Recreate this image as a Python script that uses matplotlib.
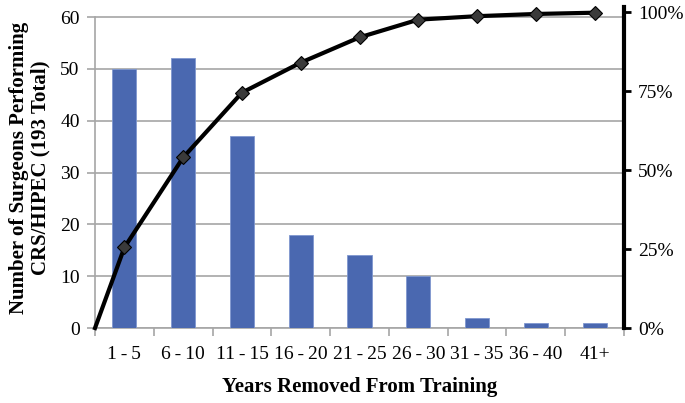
import numpy as np
import matplotlib
matplotlib.use("Agg")
import matplotlib.pyplot as plt
from matplotlib.ticker import FixedLocator, NullFormatter, FuncFormatter

plt.rcParams["font.family"] = ["Liberation Serif", "DejaVu Serif"]

categories = ["1\u2009-\u20095", "6\u2009-\u200910", "11\u2009-\u200915",
              "16\u2009-\u200920", "21\u2009-\u200925", "26\u2009-\u200930",
              "31\u2009-\u200935", "36\u2009-\u200940", "41+"]
surgeons = [50, 52, 37, 18, 14, 10, 2, 1, 1]
# cumulative share (first point = origin)
cum_pct = [0, 25.5, 54, 74.5, 84, 92, 97.6, 98.7, 99.4, 99.8]

bar_color = "#4a68b0"
grid_color = "#a6a6a6"

fig = plt.figure(figsize=(6.85, 4.03), dpi=100)
ax = fig.add_axes([0.1387, 0.186, 0.7723, 0.7966])

x = np.arange(len(categories))
ax.bar(x, surgeons, width=0.41, color=bar_color, edgecolor="#7f97cf",
       linewidth=0.6, zorder=3)

top_left = 60 * (321 / 311)
ax.set_ylim(0, top_left)
ax.set_xlim(-0.5, len(categories) - 0.5)
ax.set_yticks(range(0, 61, 10))
ax.yaxis.grid(True, color=grid_color, linewidth=1.2, zorder=0)
ax.set_axisbelow(True)

# category boundaries as major ticks, labels at centres
ax.xaxis.set_major_locator(FixedLocator(np.arange(-0.5, len(categories), 1.0)))
ax.xaxis.set_major_formatter(NullFormatter())
ax.xaxis.set_minor_locator(FixedLocator(x))
ax.set_xticklabels(categories, minor=True)
ax.tick_params(axis="x", which="major", length=6, color=grid_color, width=1.2)
ax.tick_params(axis="x", which="minor", length=0, pad=13, labelsize=14)
ax.tick_params(axis="y", length=6, color=grid_color, width=1.2, labelsize=14, pad=5)

for s in ["top", "right"]:
    ax.spines[s].set_visible(False)
ax.spines["left"].set_bounds(0, 60)
ax.spines["left"].set_color(grid_color)
ax.spines["left"].set_linewidth(1.2)
ax.spines["bottom"].set_color(grid_color)
ax.spines["bottom"].set_linewidth(1.2)

ax.set_xlabel("Years Removed From Training", fontsize=15, fontweight="bold",
              labelpad=10)
ax.set_ylabel("Number of Surgeons Performing\nCRS/HIPEC (193 Total)",
              fontsize=15, fontweight="bold", labelpad=7, linespacing=1.1)

ax2 = ax.twinx()
ax2.set_ylim(0, 1.016)
line_x = np.concatenate([[-0.5], x])
ax2.plot(line_x, np.array(cum_pct) / 100, color="black", linewidth=3,
         zorder=5, clip_on=False)
ax2.plot(x, np.array(cum_pct[1:]) / 100, linestyle="none", marker="D",
         markersize=7, markerfacecolor="#3a3a3a", markeredgecolor="black",
         markeredgewidth=0.8, zorder=6, clip_on=False)
ax2.set_yticks([0, 0.25, 0.5, 0.75, 1.0])
ax2.yaxis.set_major_formatter(FuncFormatter(lambda v, p: f"{v * 100:.0f}%"))
ax2.tick_params(axis="y", length=5, width=2, color="black", labelsize=14, pad=5)
for s in ["top", "left", "bottom"]:
    ax2.spines[s].set_visible(False)
ax2.spines["right"].set_linewidth(3)
ax2.spines["right"].set_color("black")

fig.savefig("out.png", dpi=100)
